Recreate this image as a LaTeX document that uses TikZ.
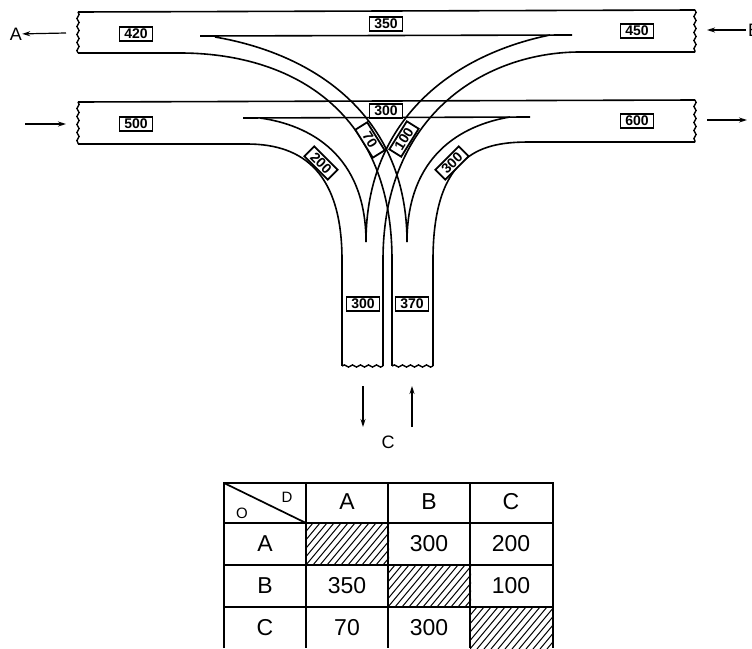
\documentclass[tikz,border=0pt]{standalone}
\usepackage{fontspec}
\setmainfont{Liberation Sans}
\usetikzlibrary{arrows.meta, decorations.pathmorphing}
\tikzset{
  rd/.style   = {line width=1.6pt},
  cutl/.style = {line width=1.4pt, decorate,
                 decoration={snake, amplitude=1.1pt, segment length=8pt}},
  cnt/.style  = {draw, line width=1.8pt, fill=white, font=\fontsize{14}{14}\selectfont\bfseries,
                 minimum width=33pt, minimum height=14pt, inner sep=0pt, text height=9.5pt, text depth=0pt},
  fl/.style   = {-{Stealth[length=8pt,width=5pt]}, line width=1.2pt},
  let/.style  = {font=\fontsize{18}{18}\selectfont, inner sep=0pt},
  cel/.style  = {font=\fontsize{23}{23}\selectfont, inner sep=0pt},
  hat/.style  = {line width=1pt},
  grd/.style  = {line width=1.7pt},
}
\begin{document}
\begin{tikzpicture}[x=1pt,y=-1pt]
  \useasboundingbox (0,0) rectangle (752,648);
  % upper road
  \draw[rd] (78,12)--(695,10);
  \draw[rd] (200,36)--(572,35);
  \draw[rd] (78,53)--(180,53) .. controls (285,53) and (392,105) .. (392,260);
  \draw[rd] (695,52)--(580,52) .. controls (488,52) and (383,112) .. (383,260);
  \draw[rd] (215,37) .. controls (320,55) and (407,120) .. (407,242);
  \draw[rd] (550,35) .. controls (452,55) and (366,120) .. (366,242);
  \draw[cutl] (78,12)--(78,53);
  \draw[cutl] (695,10)--(695,52);
  % lower road
  \draw[rd] (78,102)--(695,100);
  \draw[rd] (243,118)--(530,117);
  \draw[rd] (78,144)--(247,144) .. controls (305,144) and (342,175) .. (342,260);
  \draw[rd] (695,142)--(530,142) .. controls (485,142) and (433,150) .. (433,260);
  \draw[rd] (260,118) .. controls (310,125) and (366,155) .. (366,242);
  \draw[rd] (510,117) .. controls (462,125) and (407,155) .. (407,242);
  \draw[cutl] (78,102)--(78,144);
  \draw[cutl] (695,100)--(695,142);
  % side road
  \draw[rd] (342,260)--(342,366); \draw[rd] (383,260)--(383,366);
  \draw[rd] (392,260)--(392,366); \draw[rd] (433,260)--(433,366);
  \draw[cutl] (342,366)--(383,366);
  \draw[cutl] (392,366)--(433,366);
  % counts
  \node[cnt] (n420) at (136,34)  {420};
  \node[cnt] (n350) at (386,24)  {350};
  \node[cnt] (n450) at (637,31)  {450};
  \node[cnt] (n500) at (136,124) {500};
  \node[cnt] (n300) at (386,111) {300};
  \node[cnt] (n600) at (637,121) {600};
  \node[cnt, rotate=-45] (n200) at (321,163) {200};
  \node[cnt, rotate=-58] (n70)  at (370,140) {70};
  \node[cnt, rotate=58]  (n100) at (404,139) {100};
  \node[cnt, rotate=45]  (n30r) at (452,163) {300};
  \node[cnt] (n30c) at (363,304) {300};
  \node[cnt] (n370) at (412,304) {370};
  % directions
  \node[let] (lA) at (16,34)  {A};
  \node[let, anchor=west] (lB) at (748,30) {B};
  \node[let] (lC) at (388,442) {C};
  \coordinate (a1) at (66,33);   \coordinate (a2) at (25,124);  \coordinate (a3) at (66,124);
  \coordinate (b1) at (746,30);  \coordinate (b2) at (707,30);
  \coordinate (d1) at (707,120); \coordinate (d2) at (747,120);
  \coordinate (c1) at (363,386); \coordinate (c2) at (363,427);
  \coordinate (c3) at (412,427); \coordinate (c4) at (412,386);
  \draw[fl] (a1)--(lA); \draw[fl] (a2)--(a3); \draw[fl] (b1)--(b2);
  \draw[fl] (d1)--(d2); \draw[fl] (c1)--(c2); \draw[fl] (c3)--(c4);
  % table
  \foreach \x/\y in {306/523,388/565,470/607} {
    \begin{scope}
      \clip (\x,\y) rectangle ++(83,42);
      \foreach \k in {-6,...,12} \draw[hat] (\x+\k*7,\y+42)--++(35,-42);
    \end{scope}
  }
  \draw[grd] (224,648)--(224,483)--(553,483)--(553,648);
  \foreach \x in {306,388,470} \draw[grd] (\x,483)--(\x,648);
  \foreach \y in {523,565,607} \draw[grd] (224,\y)--(553,\y);
  \draw[grd] (224,483)--(306,523);
  \node[let, font=\fontsize{15}{15}\selectfont] (hD) at (287,497) {D};
  \node[let, font=\fontsize{15}{15}\selectfont] (hO) at (242,513) {O};
  \foreach \x/\t in {347/A,429/B,511/C} \node[cel] (h\t) at (\x,502) {\t};
  \foreach \y/\t in {544/A,586/B,628/C} \node[cel] (r\t) at (265,\y) {\t};
  \node[cel] (ab) at (429,544) {300}; \node[cel] (ac) at (511,544) {200};
  \node[cel] (ba) at (347,586) {350}; \node[cel] (bc) at (511,586) {100};
  \node[cel] (ca) at (347,628) {70};  \node[cel] (cb) at (429,628) {300};
\end{tikzpicture}
\end{document}
